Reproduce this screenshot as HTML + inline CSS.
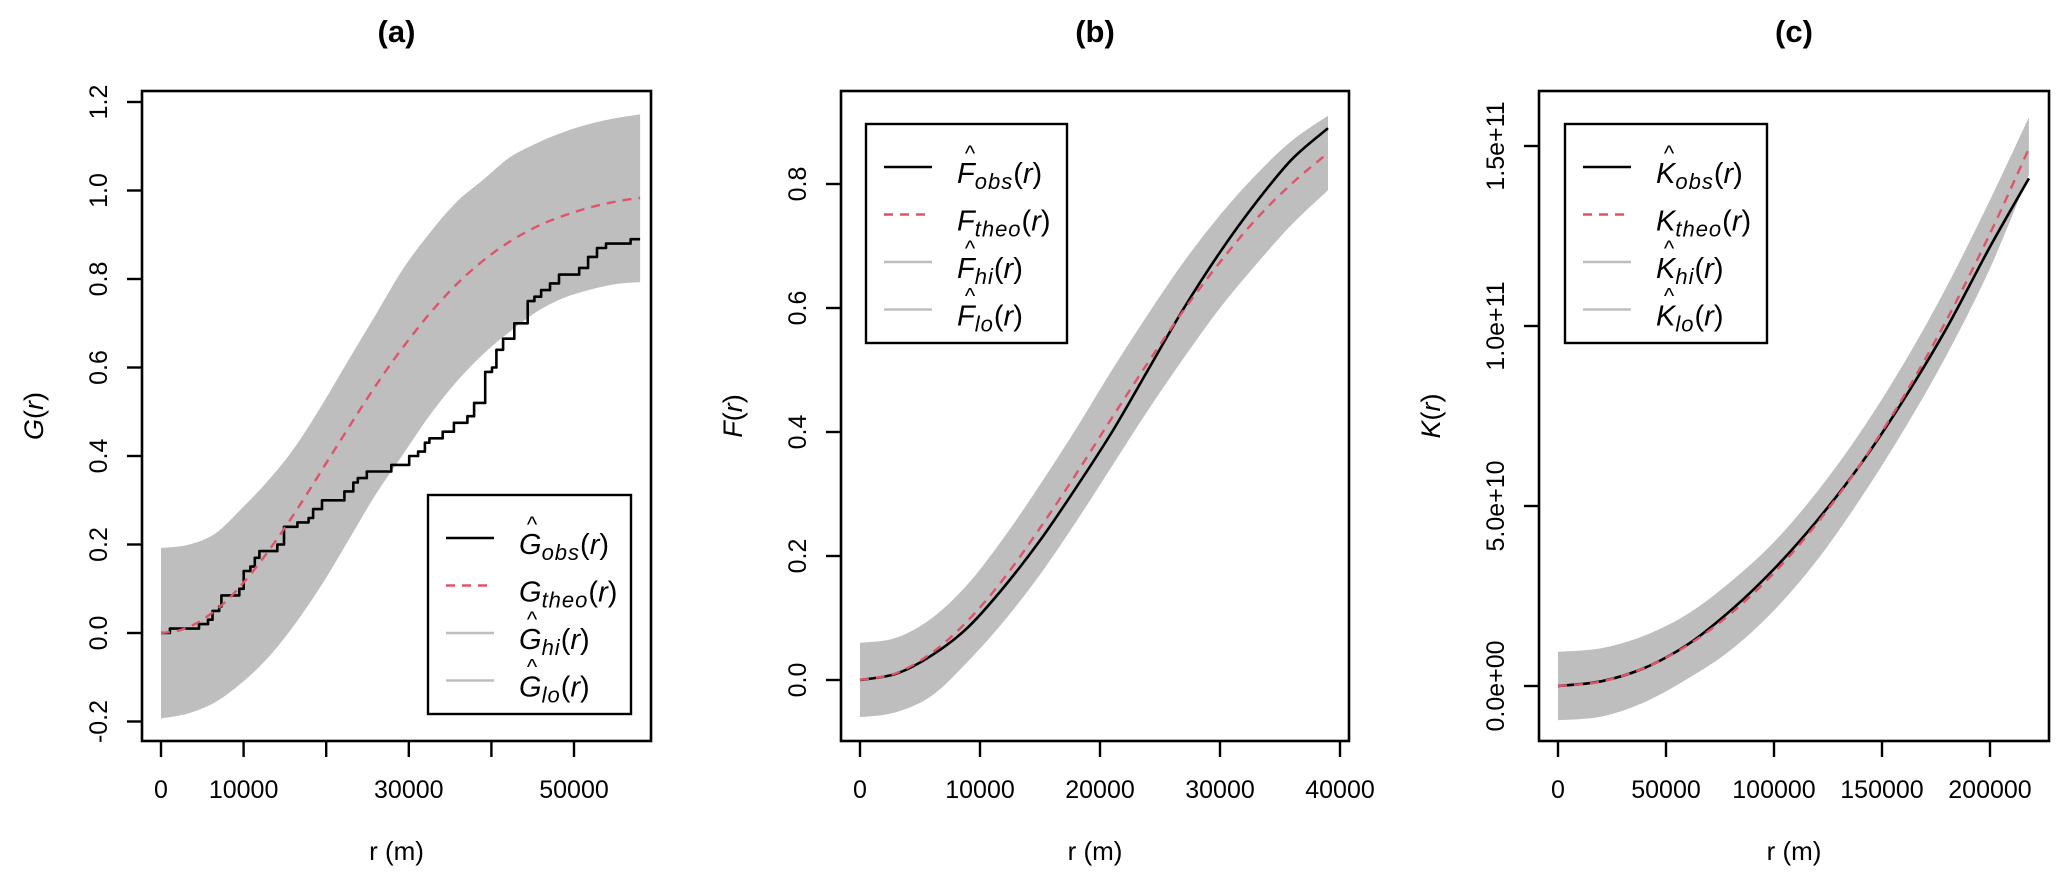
<!DOCTYPE html>
<html><head><meta charset="utf-8">
<style>
html,body{margin:0;padding:0;background:#fff;}
svg{display:block;font-family:"Liberation Sans",Arial,sans-serif;}
</style></head>
<body>
<svg id="fig" width="2067" height="881" viewBox="0 0 2067 881" xmlns="http://www.w3.org/2000/svg"></svg>
<script>
// ---------- Panel (a) data ----------
const aTheoR = [0,2000,4000,6000,8000,10000,12000,14000,16000,18000,20000,22000,24000,26000,28000,30000,32000,34000,36000,38000,40000,42000,44000,46000,48000,50000,52000,54000,56000,58000];
const aTheoV = [0,0.005,0.019,0.043,0.074,0.114,0.160,0.211,0.266,0.324,0.384,0.443,0.502,0.559,0.613,0.663,0.710,0.753,0.792,0.826,0.856,0.882,0.904,0.923,0.938,0.951,0.962,0.971,0.978,0.983];
const aBandR = [0,3250,6500,9750,13000,16250,19500,22740,25990,29240,32490,35740,38980,42230,45480,48730,51980,55230,58000];
const aHiV = [0.192,0.199,0.224,0.281,0.345,0.421,0.516,0.618,0.719,0.821,0.903,0.973,1.024,1.075,1.107,1.132,1.151,1.164,1.172];
const aLoV = [-0.193,-0.182,-0.157,-0.113,-0.055,0.021,0.110,0.211,0.313,0.402,0.491,0.567,0.630,0.681,0.726,0.757,0.776,0.789,0.793];
const aObsR = [0,1080,4600,5690,6230,7040,7310,9480,10010,10820,11360,11910,14080,14890,16510,17870,18410,19490,22200,23280,23830,24910,27880,30050,31130,31950,32490,34110,35460,37090,37900,39250,40070,40610,41420,42770,44400,45210,46020,47100,48190,50630,51710,52790,53880,56850,58000];
const aObsV = [0,0.01,0.02,0.03,0.05,0.06,0.085,0.10,0.14,0.15,0.17,0.185,0.20,0.24,0.25,0.26,0.28,0.30,0.32,0.34,0.35,0.365,0.38,0.40,0.41,0.43,0.44,0.455,0.475,0.49,0.52,0.59,0.60,0.64,0.665,0.70,0.75,0.76,0.775,0.79,0.81,0.825,0.85,0.87,0.88,0.89,0.89];
const aXTicks = [0,10000,20000,30000,40000,50000];
const aXLabels = ["0","10000","","30000","","50000"];
const aYTicks = [-0.2,0,0.2,0.4,0.6,0.8,1.0,1.2];
const aYLabels = ["-0.2","0.0","0.2","0.4","0.6","0.8","1.0","1.2"];

// ---------- Panel (b) data ----------
const bR = [0,3000,6000,9000,12000,15000,18000,21000,24000,27000,30000,33000,36000,39000];
const bTheoV = [0,0.011,0.044,0.096,0.164,0.245,0.332,0.423,0.512,0.597,0.674,0.743,0.801,0.850];
const bObsV = [0,0.010,0.040,0.085,0.150,0.225,0.310,0.400,0.500,0.600,0.690,0.770,0.840,0.890];
const bHiV = [0.06,0.068,0.10,0.155,0.23,0.315,0.405,0.50,0.59,0.675,0.75,0.815,0.87,0.91];
const bLoV = [-0.06,-0.052,-0.025,0.03,0.095,0.17,0.255,0.345,0.435,0.52,0.60,0.67,0.735,0.79];
const bXTicks = [0,10000,20000,30000,40000];
const bXLabels = ["0","10000","20000","30000","40000"];
const bYTicks = [0,0.2,0.4,0.6,0.8];
const bYLabels = ["0.0","0.2","0.4","0.6","0.8"];

// ---------- Panel (c) data (K in units of 1e10) ----------
const cR = [0,20000,40000,60000,80000,100000,120000,140000,160000,180000,200000,218000];
const cTheoV = [0,0.126,0.503,1.131,2.011,3.142,4.524,6.158,8.042,10.179,12.566,14.93];
const cObsV = [0,0.13,0.5,1.15,2.1,3.25,4.6,6.15,7.95,9.95,12.2,14.1];
const cHiV = [0.95,1.05,1.4,2.0,2.9,4.0,5.4,7.05,8.95,11.1,13.5,15.8];
const cLoV = [-0.95,-0.85,-0.45,0.2,1.0,2.1,3.5,5.2,7.1,9.2,11.6,14.2];
const cXTicks = [0,50000,100000,150000,200000];
const cXLabels = ["0","50000","100000","150000","200000"];
const cYTicks = [0,5,10,15];
const cYLabels = ["0.0e+00","5.0e+10","1.0e+11","1.5e+11"];

const NS = "http://www.w3.org/2000/svg";
const svg = document.getElementById('fig');
function mk(tag, attrs, parent){
  const e = document.createElementNS(NS, tag);
  for (const k in attrs) e.setAttribute(k, attrs[k]);
  (parent||svg).appendChild(e);
  return e;
}
const RED = "#DF536B", GREY = "#BEBEBE";

// Catmull-Rom smooth path through points (no leading M)
function smooth(pts){
  let d = '';
  for (let i=0;i<pts.length-1;i++){
    const p0 = pts[Math.max(0,i-1)], p1 = pts[i], p2 = pts[i+1], p3 = pts[Math.min(pts.length-1,i+2)];
    const c1x = p1[0] + (p2[0]-p0[0])/6, c1y = p1[1] + (p2[1]-p0[1])/6;
    const c2x = p2[0] - (p3[0]-p1[0])/6, c2y = p2[1] - (p3[1]-p1[1])/6;
    d += 'C' + c1x.toFixed(1)+','+c1y.toFixed(1)+' '+c2x.toFixed(1)+','+c2y.toFixed(1)+' '+p2[0].toFixed(1)+','+p2[1].toFixed(1);
  }
  return d;
}

function panel(p){
  const g = mk('g', {});
  
  
  const sx = v => p.x0 + v * p.kx;
  const sy = v => p.y0 - v * p.ky;
  // band
  const hiPts = p.bandR.map((r,i)=>[sx(r), sy(p.hi[i])]);
  const loPts = p.bandR.map((r,i)=>[sx(r), sy(p.lo[i])]).reverse();
  const d = 'M'+hiPts[0][0].toFixed(1)+','+hiPts[0][1].toFixed(1) + smooth(hiPts) +
            'L'+loPts[0][0].toFixed(1)+','+loPts[0][1].toFixed(1) + smooth(loPts) + 'Z';
  const band = mk('path', {d: d, fill: GREY, stroke: 'none'}, g);
  
  
  // theo
  const tPts = p.theoR.map((r,i)=>[sx(r), sy(p.theoV[i])]);
  const tp = 'M'+tPts[0][0].toFixed(1)+','+tPts[0][1].toFixed(1) + smooth(tPts);
  // obs
  let od;
  if (p.step){
    const pts=[];
    p.obsR.forEach((r,i)=>{ if(i>0) pts.push(sx(r).toFixed(1)+','+sy(p.obsV[i-1]).toFixed(1)); pts.push(sx(r).toFixed(1)+','+sy(p.obsV[i]).toFixed(1)); });
    od = 'M' + pts.join('L');
  } else {
    const oPts = p.obsR.map((r,i)=>[sx(r), sy(p.obsV[i])]);
    od = 'M'+oPts[0][0].toFixed(1)+','+oPts[0][1].toFixed(1) + smooth(oPts);
  }
  const obs = mk('path', {d: od, fill:'none', stroke:'#000', 'stroke-width':2.6, 'stroke-linejoin':'round'}, g);
  
  
  const th = mk('path', {d: tp, fill:'none', stroke:RED, 'stroke-width':2.4, 'stroke-dasharray':'9 7'}, g);
  
  
  // box
  const box = mk('rect', {x:p.bx0, y:91, width:p.bx1-p.bx0, height:650, fill:'none', stroke:'#000', 'stroke-width':2.6}, g);
  
  
  // x ticks
  p.xt.forEach((t,i)=>{
    const x = sx(t);
    const tk = mk('line', {x1:x, x2:x, y1:741, y2:757, stroke:'#000', 'stroke-width':2.4}, g);
    
    
    if (p.xl[i]) {
      const tx = mk('text', {x:x, y:798, 'font-size':25, 'text-anchor':'middle'}, g);
      tx.textContent = p.xl[i];
      
      
    }
  });
  // y ticks
  p.yt.forEach((t,i)=>{
    const y = sy(t);
    const tk = mk('line', {x1:p.bx0-15, x2:p.bx0, y1:y, y2:y, stroke:'#000', 'stroke-width':2.4}, g);
    
    
    const tx = mk('text', {x:0, y:0, 'font-size':25, 'text-anchor':'middle', transform:`translate(${p.bx0-35},${y}) rotate(-90)`}, g);
    tx.textContent = p.yl[i];
    
    
  });
  // title
  const ti = mk('text', {x:(p.bx0+p.bx1)/2, y:42, 'font-size':31, 'font-weight':'bold', 'text-anchor':'middle'}, g);
  ti.textContent = p.title;
  
  
  // x label
  const xl = mk('text', {x:(p.bx0+p.bx1)/2, y:860, 'font-size':26, 'text-anchor':'middle'}, g);
  xl.textContent = 'r (m)';
  
  
  // y label
  const yl = mk('text', {x:0, y:0, 'font-size':27, 'text-anchor':'middle', transform:`translate(${p.bx0-99},416) rotate(-90)`}, g);
  yl.innerHTML = '<tspan font-style="italic">'+p.L+'</tspan>(<tspan font-style="italic">r</tspan>)';
  
  
  // legend
  const lg = mk('g', {}, g);
  
  
  mk('rect', {x:p.lx, y:p.ly, width:p.lw, height:219, fill:'#fff', stroke:'#000', 'stroke-width':2.4}, lg);
  const rows = [
    {sub:'obs', hat:true, stroke:'#000', dash:null},
    {sub:'theo', hat:false, stroke:RED, dash:'9 7'},
    {sub:'hi', hat:true, stroke:GREY, dash:null},
    {sub:'lo', hat:true, stroke:GREY, dash:null}
  ];
  rows.forEach((rw,i)=>{
    const y = p.ly + 43 + i*47.5;
    const ent = mk('g', {}, lg);
    
    
    const la = {x1:p.lx+18, x2:p.lx+66, y1:y, y2:y, stroke:rw.stroke, 'stroke-width':2.6};
    if (rw.dash) la['stroke-dasharray'] = rw.dash;
    mk('line', la, ent);
    const tx = mk('text', {x:p.lx+91, y:y+16, 'font-size':29}, ent);
    tx.innerHTML = '<tspan font-style="italic">'+p.L+'</tspan><tspan font-style="italic" font-size="22" dy="6" letter-spacing="1">'+rw.sub+'</tspan><tspan dy="-6">(</tspan><tspan font-style="italic">r</tspan>)';
    if (rw.hat){
      const h = mk('text', {x:p.lx+104, y:y-6, 'font-size':22, 'text-anchor':'middle'}, ent);
      h.textContent = '^';
    }
  });
}

panel({id:'panel-a', title:'(a)', L:'G', bx0:142, bx1:651, x0:161, kx:0.00826, y0:633, ky:442.5,
  bandR:aBandR, hi:aHiV, lo:aLoV, theoR:aTheoR, theoV:aTheoV, obsR:aObsR, obsV:aObsV, step:true,
  xt:aXTicks, xl:aXLabels, yt:aYTicks, yl:aYLabels, lx:428, ly:495, lw:203});
panel({id:'panel-b', title:'(b)', L:'F', bx0:841, bx1:1349, x0:860, kx:0.012, y0:680, ky:620,
  bandR:bR, hi:bHiV, lo:bLoV, theoR:bR, theoV:bTheoV, obsR:bR, obsV:bObsV, step:false,
  xt:bXTicks, xl:bXLabels, yt:bYTicks, yl:bYLabels, lx:866, ly:124, lw:201});
panel({id:'panel-c', title:'(c)', L:'K', bx0:1539, bx1:2049, x0:1558, kx:0.00216, y0:686, ky:36,
  bandR:cR, hi:cHiV, lo:cLoV, theoR:cR, theoV:cTheoV, obsR:cR, obsV:cObsV, step:false,
  xt:cXTicks, xl:cXLabels, yt:cYTicks, yl:cYLabels, lx:1565, ly:124, lw:202});
</script>
</body></html>
